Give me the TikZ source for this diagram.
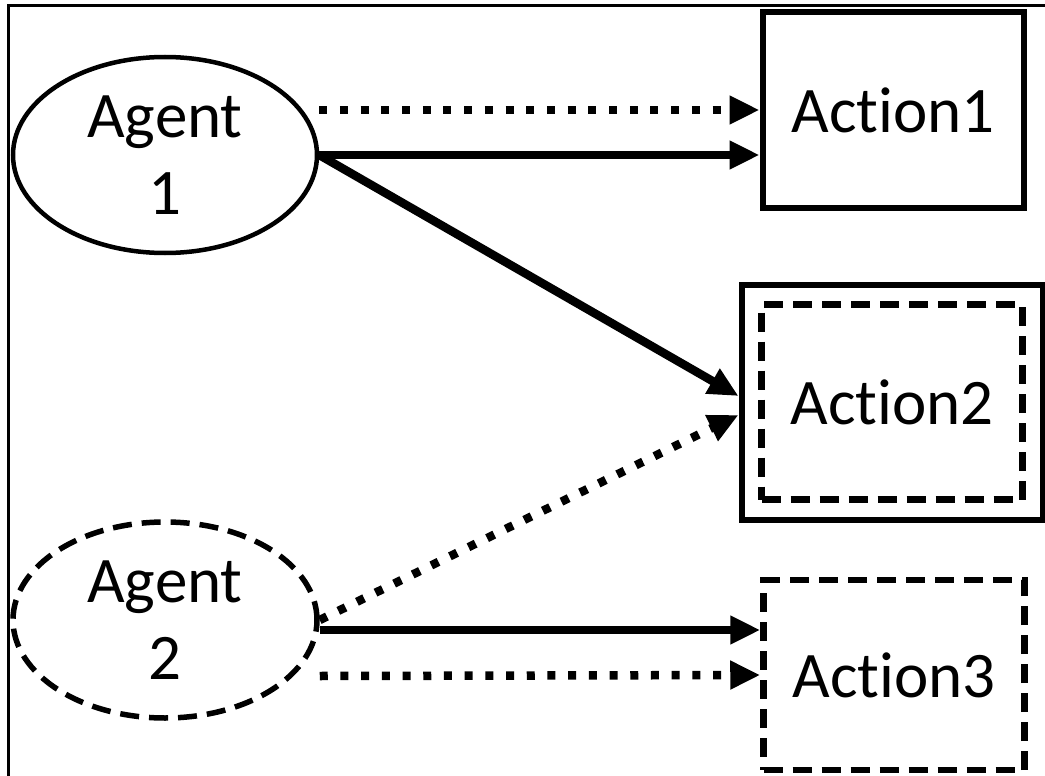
\documentclass[tikz,border=0pt]{standalone}
\usepackage{fontspec}
\setmainfont[Ligatures=NoCommon]{Carlito}
\usetikzlibrary{shapes.geometric}
\usetikzlibrary{arrows.meta}

\begin{document}
\begin{tikzpicture}[
  x=1pt, y=-1pt,
  every node/.style={font=\fontsize{65}{77}\selectfont, align=center, inner sep=0pt},
  agent/.style={ellipse, draw, line width=4.5pt, minimum width=304pt, minimum height=196pt},
  actbox/.style={rectangle, draw, line width=6pt, minimum width=261pt, minimum height=195pt},
  dashedline/.style={line width=6.5pt, dash pattern=on 19pt off 10pt},
  solidarrow/.style={->, line width=8.5pt},
  dotarrow/.style={->, line width=8.5pt, dash pattern=on 8pt off 12.7pt},
]
\tikzset{>={Triangle[length=30pt, width=27pt]}}

\useasboundingbox (0,0) rectangle (1045,776);

% Frame (cut at right and bottom)
\draw[line width=3pt] (8,776) -- (8,6) -- (1045,6);

% Nodes - agents (left)
\node[agent] (ag1) at (165,155) {Agent\\1};
\node[agent, dashedline, line width=5.5pt] (ag2) at (165,620) {Agent\\2};

% Nodes - actions (right)
\node[actbox] (act1) at (893,110) {Action1};
\node[actbox, dashedline] (act2) at (892,402) {Action2};
\node[actbox, minimum width=301pt, minimum height=235pt] (act2out) at (act2) {};
\node[actbox, dashedline, minimum height=190pt] (act3) at (894,675) {Action3};

% Edges from agent 1
\draw[dotarrow]   (ag1.east |- act1.west) -- (act1.west);
\draw[solidarrow] (ag1.east) -- (ag1.east -| act1.west);
\draw[solidarrow] (ag1.east) -- ([yshift=6pt]act2out.west);

% Edges from agent 2
\draw[dotarrow]   (ag2.east) -- ([yshift=-13pt]act2out.west);
\draw[solidarrow] ([yshift=-10pt]ag2.east) -- ([yshift=45pt]act3.west);
\draw[dotarrow]   ([yshift=-56pt]ag2.east) -- (act3.west);

\end{tikzpicture}
\end{document}
